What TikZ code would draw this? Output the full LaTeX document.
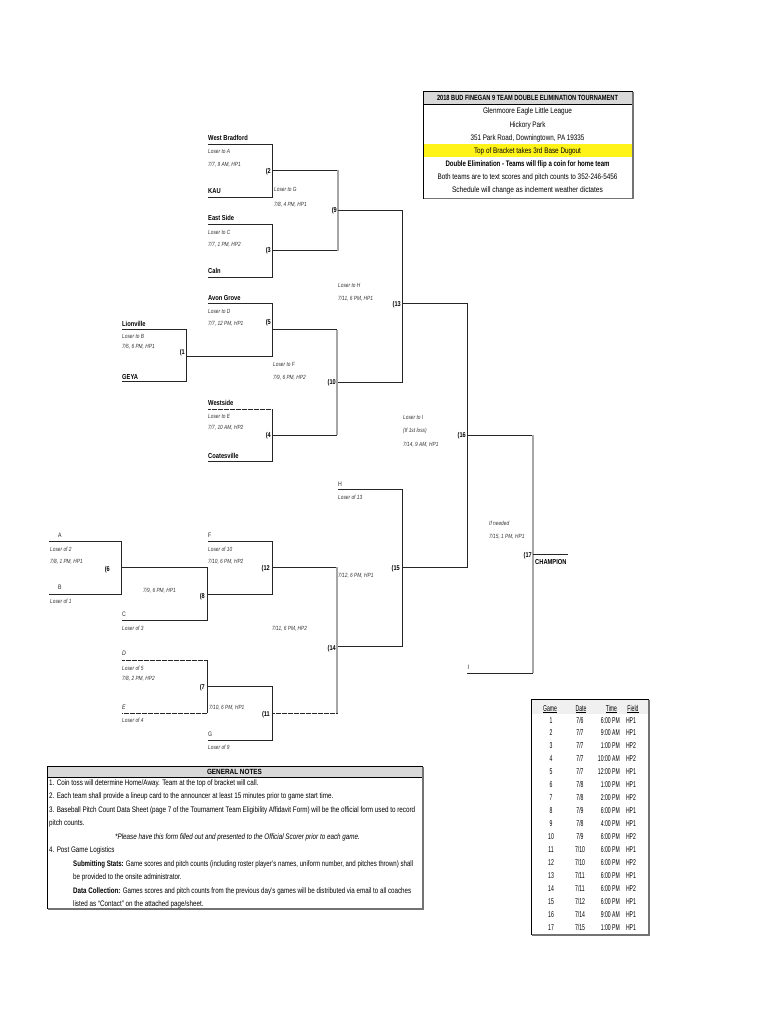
\documentclass[tikz,border=0pt]{standalone}
\usepackage{fontspec}
\setmainfont{Liberation Sans}[FakeStretch=0.8]
\newfontfamily\tabfont{Liberation Sans}[FakeStretch=0.6]
\usepackage{graphicx}
\newcommand\fw[2]{\resizebox{#1pt}{\height}{#2}}
\newsavebox\notebox
\begin{document}
\sbox\notebox{\fontsize{8}{9}\selectfont 3. Baseball Pitch Count Data Sheet (page 7 of the Tournament Team Eligibility Affidavit Form) will be the official form used to record}%
\pgfmathsetmacro\nsx{366/\wd\notebox}%
\newcommand\ns[1]{\scalebox{\nsx}[1]{#1}}%
\begin{tikzpicture}[x=1pt,y=-1pt,
  ln/.style={line width=0.9pt,black!85},
  gl/.style={line width=1.3pt,black!35},
  dl/.style={line width=0.9pt,black!85,dash pattern=on 0.7pt off 0.5pt},
  team/.style={font=\bfseries\fontsize{7.2}{8}\selectfont,anchor=base west,inner sep=0pt},
  lbl/.style={font=\itshape\fontsize{6}{7}\selectfont,anchor=base west,inner sep=0pt,text=black!80},
  ltr/.style={font=\fontsize{6.5}{7}\selectfont,anchor=base west,inner sep=0pt,text=black!85},
  gn/.style={font=\bfseries\fontsize{7}{8}\selectfont,anchor=base east,inner sep=0pt},
  inf/.style={font=\fontsize{8}{9}\selectfont,anchor=base,inner sep=0pt},
  nt/.style={font=\fontsize{8}{9}\selectfont,anchor=base west,inner sep=0pt},
  tb/.style={font=\tabfont\fontsize{8.5}{9}\selectfont,anchor=base,inner sep=0pt},
  tbr/.style={font=\tabfont\fontsize{8.5}{9}\selectfont,anchor=base east,inner sep=0pt},
  boxb/.style={line width=0.8pt,black},
  shad/.style={line width=1.2pt,black!55},
]
\useasboundingbox (0,0) rectangle (770,1024);
\fill[white] (0,0) rectangle (770,1024);

% ---------------- info box ----------------
\fill[gray!30] (423,91) rectangle (632,104);
\fill[yellow!90!white] (423,144) rectangle (632,157);
\draw[boxb] (423,91) rectangle (632,198);
\draw[boxb] (423,104) -- (632,104);
\draw[shad] (632.9,92) -- (632.9,198.9) -- (424,198.9);
\node[inf,font=\bfseries\fontsize{7.5}{8}\selectfont] (ih) at (527.5,100.4) {\fw{181}{2018 BUD FINEGAN 9 TEAM DOUBLE ELIMINATION TOURNAMENT}};
\node[inf] (i1) at (527.5,114) {\fw{89}{Glenmoore Eagle Little League}};
\node[inf] (i2) at (527.5,127.2) {\fw{36}{Hickory Park}};
\node[inf] (i3) at (527.5,140.3) {\fw{114}{351 Park Road, Downingtown, PA 19335}};
\node[inf] (i4) at (527.5,153.5) {\fw{107}{Top of Bracket takes 3rd Base Dugout}};
\node[inf,font=\bfseries\fontsize{8}{9}\selectfont] (i5) at (527.5,166.7) {\fw{164}{Double Elimination - Teams will flip a coin for home team}};
\node[inf] (i6) at (527.5,179.8) {\fw{180}{Both teams are to text scores and pitch counts to 352-246-5456}};
\node[inf] (i7) at (527.5,193) {\fw{151}{Schedule will change as inclement weather dictates}};

% ---------------- upper bracket ----------------
\draw[ln] (208,144) -- (272,144) -- (272,197) -- (208,197);
\draw[ln] (272,170.5) -- (338,170.5);
\draw[ln] (208,224) -- (272,224) -- (272,277) -- (208,277);
\draw[ln] (272,250.5) -- (338,250.5);
\draw[gl] (338,170.5) -- (338,250.5);
\draw[ln] (338,210.5) -- (402,210.5) -- (402,382.3) -- (337,382.3);
\draw[ln] (402,303.3) -- (467,303.3) -- (467,567.3) -- (402,567.3);
\draw[ln] (467,435) -- (533,435);
\draw[gl] (533,435) -- (533,673);
\draw[ln] (533,673) -- (467,673);
\draw[ln] (533,554.3) -- (568,554.3);
\draw[ln] (208,303.3) -- (272,303.3) -- (272,356) -- (186,356);
\draw[ln] (122,329.3) -- (186,329.3) -- (186,381.7) -- (122,381.7);
\draw[ln] (272,329.5) -- (337,329.5);
\draw[gl] (337,329.5) -- (337,435);
\draw[dl] (208,409) -- (272,409);
\draw[ln] (272,409) -- (272,461.7) -- (208,461.7);
\draw[ln] (272,435) -- (337,435);

\node[team] (t1) at (208,140.5) {West Bradford};
\node[team] (t2) at (208,194) {KAU};
\node[team] (t3) at (208,220.5) {East Side};
\node[team] (t4) at (208,273.5) {Caln};
\node[team] (t5) at (208,300.5) {Avon Grove};
\node[team] (t6) at (122,326) {Lionville};
\node[team] (t7) at (122,379) {GEYA};
\node[team] (t8) at (208,405.5) {Westside};
\node[team] (t9) at (208,458.5) {Coatesville};
\node[team] (tc) at (535,564) {CHAMPION};

\node[lbl] (l1) at (208,154) {Loser to A};
\node[lbl] (l2) at (208,166.5) {7/7, 9 AM, HP1};
\node[lbl] (l3) at (274,191.5) {Loser to G};
\node[lbl] (l4) at (274,207) {7/8, 4 PM, HP1};
\node[lbl] (l5) at (208,235) {Loser to C};
\node[lbl] (l6) at (208,247) {7/7, 1 PM, HP2};
\node[lbl] (l7) at (338,287.5) {Loser to H};
\node[lbl] (l8) at (338,300) {7/11, 6 PM, HP1};
\node[lbl] (l9) at (208,313.5) {Loser to D};
\node[lbl] (l10) at (208,325.5) {7/7, 12 PM, HP1};
\node[lbl] (l11) at (122,338.5) {Loser to B};
\node[lbl] (l12) at (122,348.5) {7/6, 6 PM, HP1};
\node[lbl] (l13) at (273,366) {Loser to F};
\node[lbl] (l14) at (273,379) {7/9, 6 PM, HP2};
\node[lbl] (l15) at (208,418) {Loser to E};
\node[lbl] (l16) at (208,429.5) {7/7, 10 AM, HP2};
\node[lbl] (l17) at (403,419) {Loser to I};
\node[lbl] (l18) at (403,432.5) {(If 1st loss)};
\node[lbl] (l19) at (403,446) {7/14, 9 AM, HP1};
\node[lbl] (l20) at (489,525) {If needed};
\node[lbl] (l21) at (489,538.5) {7/15, 1 PM, HP1};

\node[gn] (g2) at (271,173.5) {(2};
\node[gn] (g3) at (271,252.5) {(3};
\node[gn] (g9) at (337,212.5) {(9};
\node[gn] (g5) at (271,324.5) {(5};
\node[gn] (g1) at (185,354.5) {(1};
\node[gn] (g10) at (336,384.5) {(10};
\node[gn] (g13) at (401,306) {(13};
\node[gn] (g4) at (271,437.5) {(4};
\node[gn] (g16) at (466,437.5) {(16};
\node[gn] (g17) at (532,557.5) {(17};

% ---------------- lower bracket ----------------
\draw[ln] (338,489) -- (402,489) -- (402,646.7) -- (337,646.7);
\draw[ln] (49,541) -- (121,541) -- (121,594) -- (49,594);
\draw[ln] (121,567.3) -- (207,567.3) -- (207,620) -- (122,620);
\draw[ln] (208,541) -- (272,541) -- (272,594) -- (207,594);
\draw[ln] (272,567.3) -- (337,567.3);
\draw[gl] (337,567.3) -- (337,713.3);
\draw[dl] (122,660) -- (207,660);
\draw[ln] (207,660) -- (207,713.3);
\draw[dl] (207,713.3) -- (122,713.3);
\draw[ln] (207,686.7) -- (272,686.7) -- (272,740) -- (208,740);
\draw[dl] (272,713.3) -- (337,713.3);

\node[ltr] (la) at (58,537.5) {A};
\node[ltr] (lb) at (58,589) {B};
\node[ltr] (lc) at (122,616.5) {C};
\node[ltr,font=\itshape\fontsize{6.5}{7}\selectfont] (ld) at (122,655.5) {D};
\node[ltr,font=\itshape\fontsize{6.5}{7}\selectfont] (le) at (122,709) {E};
\node[ltr] (lf) at (208,537.5) {F};
\node[ltr] (lg) at (208,736) {G};
\node[ltr] (lh) at (338,486) {H};
\node[ltr] (li) at (467.5,669.5) {I};

\node[lbl] (m1) at (338,499) {Loser of 13};
\node[lbl] (m2) at (50,551.5) {Loser of 2};
\node[lbl] (m3) at (50,563) {7/8, 1 PM, HP1};
\node[lbl] (m4) at (50,603) {Loser of 1};
\node[lbl] (m5) at (143,592.5) {7/9, 6 PM, HP1};
\node[lbl] (m6) at (208,551.5) {Loser of 10};
\node[lbl] (m7) at (208,563) {7/10, 6 PM, HP2};
\node[lbl] (m8) at (338,577.5) {7/12, 6 PM, HP1};
\node[lbl] (m9) at (122,630) {Loser of 3};
\node[lbl] (m10) at (272,630) {7/11, 6 PM, HP2};
\node[lbl] (m11) at (122,670) {Loser of 5};
\node[lbl] (m12) at (122,680) {7/8, 2 PM, HP2};
\node[lbl] (m13) at (209,709) {7/10, 6 PM, HP1};
\node[lbl] (m14) at (122,722.5) {Loser of 4};
\node[lbl] (m15) at (208,749) {Loser of 9};

\node[gn] (g6) at (110,571) {(6};
\node[gn] (g8) at (205,598.5) {(8};
\node[gn] (g12) at (270,570.5) {(12};
\node[gn] (g15) at (400,570.5) {(15};
\node[gn] (g14) at (336,650) {(14};
\node[gn] (g7) at (205,689) {(7};
\node[gn] (g11) at (270,716) {(11};

% ---------------- schedule table ----------------
\fill[gray!12] (531,699) rectangle (648,714);
\draw[boxb] (531,699) rectangle (648,934);
\draw[shad] (648.9,700) -- (648.9,934.9) -- (532,934.9);
\node[tb] (hg) at (550,711) {\underline{Game}};
\node[tb] (hd) at (581,711) {\underline{Date}};
\node[tb] (ht) at (611.5,711) {\underline{Time}};
\node[tb] (hf) at (633,711) {\underline{Field}};
\foreach \g/\d/\t/\f [count=\i] in {1/{7/6}/6:00 PM/HP1, 2/{7/7}/9:00 AM/HP1, 3/{7/7}/1:00 PM/HP2,
  4/{7/7}/10:00 AM/HP2, 5/{7/7}/12:00 PM/HP1, 6/{7/8}/1:00 PM/HP1, 7/{7/8}/2:00 PM/HP2,
  8/{7/9}/6:00 PM/HP1, 9/{7/8}/4:00 PM/HP1, 10/{7/9}/6:00 PM/HP2, 11/{7/10}/6:00 PM/HP1,
  12/{7/10}/6:00 PM/HP2, 13/{7/11}/6:00 PM/HP1, 14/{7/11}/6:00 PM/HP2, 15/{7/12}/6:00 PM/HP1,
  16/{7/14}/9:00 AM/HP1, 17/{7/15}/1:00 PM/HP1}{
  \pgfmathsetmacro\yy{723+12.94*(\i-1)}
  \node[tb] (rg\i) at (551,\yy) {\g};
  \node[tb] (rd\i) at (580,\yy) {\d};
  \node[tbr] (rt\i) at (620,\yy) {\t};
  \node[tb] (rf\i) at (631,\yy) {\f};
}

% ---------------- general notes ----------------
\fill[gray!30] (47,766) rectangle (422,777);
\draw[boxb] (47,766) rectangle (422,908);
\draw[boxb] (47,777) -- (422,777);
\draw[shad] (422.9,767) -- (422.9,908.9) -- (48,908.9);
\node[inf,font=\bfseries\fontsize{7.5}{8}\selectfont] (nh) at (234.5,774.4) {\fw{55}{GENERAL NOTES}};
\node[nt] (n1) at (49,785.5) {\ns{1. Coin toss will determine Home/Away. Team at the top of bracket will call.}};
\node[nt] (n2) at (49,798.5) {\ns{2. Each team shall provide a lineup card to the announcer at least 15 minutes prior to game start time.}};
\node[nt] (n3) at (49,812) {\ns{3. Baseball Pitch Count Data Sheet (page 7 of the Tournament Team Eligibility Affidavit Form) will be the official form used to record}};
\node[nt] (n4) at (49,825) {\ns{pitch counts.}};
\node[nt] (n5) at (115,839.5) {\ns{\itshape *Please have this form filled out and presented to the Official Scorer prior to each game.}};
\node[nt] (n6) at (49,852.5) {\ns{4. Post Game Logistics}};
\node[nt] (n7) at (73,866) {\fw{340}{\textbf{Submitting Stats:} Game scores and pitch counts (including roster player's names, uniform number, and pitches thrown) shall}};
\node[nt] (n8) at (73,879.5) {\ns{be provided to the onsite administrator.}};
\node[nt] (n9) at (73,893) {\fw{338}{\textbf{Data Collection:} Games scores and pitch counts from the previous day's games will be distributed via email to all coaches}};
\node[nt] (n10) at (73,906) {\ns{listed as ``Contact'' on the attached page/sheet.}};
\end{tikzpicture}
\end{document}
